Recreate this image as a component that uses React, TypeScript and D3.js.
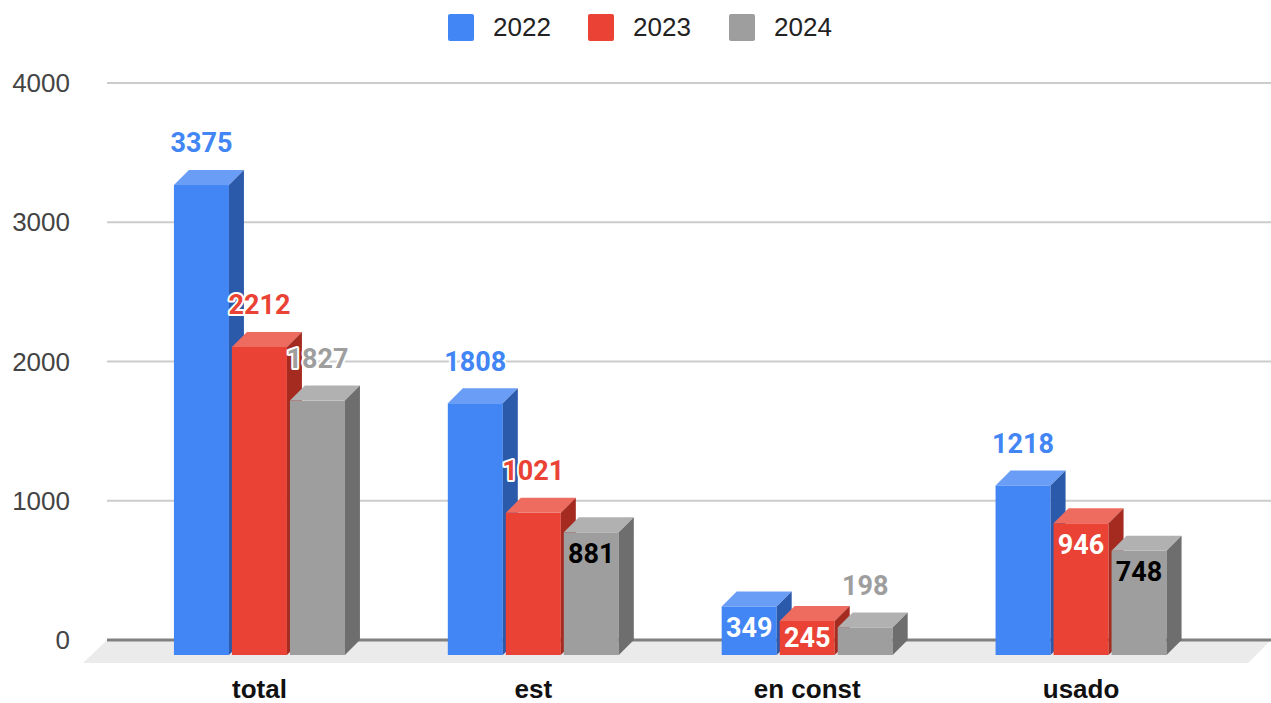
import React from "react";
import * as d3 from "d3";

const categories = ["total", "est", "en const", "usado"];
const seriesNames = ["2022", "2023", "2024"];
const values2022 = [3375, 1808, 349, 1218];
const values2023 = [2212, 1021, 245, 946];
const values2024 = [1827, 881, 198, 748];
const labelInside2022 = [false, false, true, false];
const labelInside2023 = [false, false, true, true];
const labelInside2024 = [false, true, false, true];
const yTicks = [0, 1000, 2000, 3000, 4000];

const seriesValues = [values2022, values2023, values2024];
const seriesInside = [labelInside2022, labelInside2023, labelInside2024];

const palette = [
  { front: "#4285f4", top: "#6a9ef6", side: "#2c5aab", label: "#4285f4", inText: "#ffffff" },
  { front: "#ea4335", top: "#ee6b5f", side: "#a52b21", label: "#ea4335", inText: "#ffffff" },
  { front: "#9e9e9e", top: "#b1b1b1", side: "#6e6e6e", label: "#9e9e9e", inText: "#000000" },
];

const W = 1271;
const H = 703;
const DEPTH = 15;
const FLOOR_DEPTH = 23;

export default function App() {
  const y = d3.scaleLinear().domain([0, 4000]).range([640, 83]);
  const x0 = d3.scaleBand<string>().domain(categories).range([122.5, 1218]).paddingInner(0).paddingOuter(0);
  const groupW = 171;
  const x1 = d3
    .scaleBand<string>()
    .domain(seriesNames)
    .range([0, groupW])
    .paddingInner(3 / 58)
    .paddingOuter(0);
  const bw = x1.bandwidth();
  const gridLeft = 107;
  const gridRight = W;
  const y0 = y(0);

  const bars: React.ReactNode[] = [];
  const labels: React.ReactNode[] = [];

  categories.forEach((cat, ci) => {
    const cx = (x0(cat) as number) + x0.bandwidth() / 2;
    const gx = cx - groupW / 2;
    seriesNames.forEach((s, si) => {
      const v = seriesValues[si][ci];
      const c = palette[si];
      const fx = gx + (x1(s) as number);
      const backTop = y(v);
      const fTop = backTop + DEPTH;
      const fBot = y0 + DEPTH;
      const fLeft = fx;
      const fRight = fx + bw;
      bars.push(
        <g key={`b-${ci}-${si}`}>
          <rect x={fLeft} y={fTop} width={bw} height={fBot - fTop} fill={c.front} />
          <polygon
            points={`${fLeft},${fTop} ${fLeft + DEPTH},${fTop - DEPTH} ${fRight + DEPTH},${fTop - DEPTH} ${fRight},${fTop}`}
            fill={c.top}
          />
          <polygon
            points={`${fRight},${fTop} ${fRight + DEPTH},${fTop - DEPTH} ${fRight + DEPTH},${fBot - DEPTH} ${fRight},${fBot}`}
            fill={c.side}
          />
        </g>
      );
      const inside = seriesInside[si][ci];
      const lx = fLeft + bw / 2;
      let ly: number;
      if (inside) {
        ly = Math.min(fTop + 21, (fTop + fBot) / 2);
      } else {
        ly = fTop - 42;
      }
      labels.push(
        <text
          key={`l-${ci}-${si}`}
          x={lx}
          y={ly}
          dy="0.35em"
          textAnchor="middle"
          fontFamily="Roboto, 'Liberation Sans', Arial, sans-serif"
          fontWeight="bold"
          fontSize={27}
          fill={inside ? c.inText : c.label}
          stroke={inside ? "none" : "#ffffff"}
          strokeWidth={inside ? 0 : 4}
          strokeLinejoin="round"
          style={{ paintOrder: "stroke" }}
        >
          {v}
        </text>
      );
    });
  });

  const legendX = [448, 588, 729];

  return (
    <svg
      width={W}
      height={H}
      style={{ position: "absolute", left: 0, top: 0, background: "#ffffff" }}
      fontFamily="'Liberation Sans', Arial, sans-serif"
    >
      <rect x={0} y={0} width={W} height={H} fill="#ffffff" />
      {/* legend */}
      {seriesNames.map((s, i) => (
        <g key={`lg-${s}`}>
          <rect x={legendX[i]} y={14} width={26} height={27} rx={2} fill={palette[i].front} />
          <text x={legendX[i] + 45} y={27} dy="0.35em" fontSize={26} fill="#222222">
            {s}
          </text>
        </g>
      ))}
      {/* floor */}
      <polygon
        points={`${gridLeft},${y0} ${gridRight},${y0} ${gridRight - FLOOR_DEPTH},${y0 + FLOOR_DEPTH} ${gridLeft - FLOOR_DEPTH - 1},${y0 + FLOOR_DEPTH}`}
        fill="#ebebeb"
      />
      {/* gridlines */}
      {yTicks.map((t) => (
        <line
          key={`g-${t}`}
          x1={gridLeft}
          x2={gridRight}
          y1={y(t)}
          y2={y(t)}
          stroke={t === 0 ? "#808080" : "#cccccc"}
          strokeWidth={t === 0 ? 3 : 2}
        />
      ))}
      {/* tick labels */}
      {yTicks.map((t) => (
        <text key={`t-${t}`} x={70} y={y(t)} dy="0.35em" textAnchor="end" fontSize={26} fill="#444444">
          {t}
        </text>
      ))}
      {bars}
      {labels}
      {/* category labels */}
      {categories.map((cat) => (
        <text
          key={`c-${cat}`}
          x={(x0(cat) as number) + x0.bandwidth() / 2}
          y={698}
          textAnchor="middle"
          fontSize={26}
          fontWeight="bold"
          fill="#111111"
        >
          {cat}
        </text>
      ))}
    </svg>
  );
}
